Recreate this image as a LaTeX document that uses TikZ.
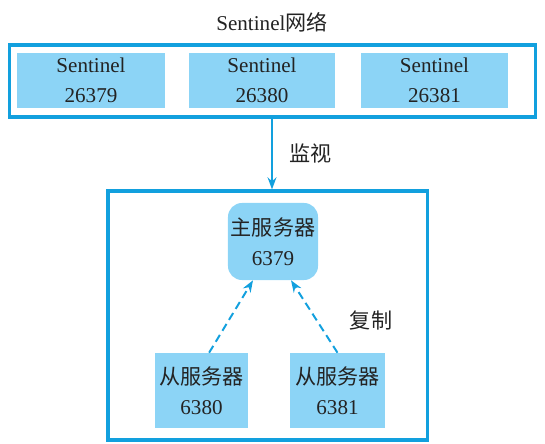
\documentclass[tikz,border=0pt]{standalone}
\usepackage{fontspec}
\setmainfont{Liberation Serif}
\newfontfamily\cjk{Noto Sans CJK SC}
\usetikzlibrary{arrows.meta,positioning,calc}
\definecolor{sline}{RGB}{18,160,222}
\definecolor{sfill}{RGB}{140,212,246}
\definecolor{stext}{RGB}{35,35,35}

\begin{document}
\begin{tikzpicture}[x=0.025cm,y=-0.025cm,
	font=\fontsize{15}{21.5}\selectfont, text=stext,
	frame/.style={draw=sline,line width=2.2pt,inner sep=0pt},
	sbox/.style={fill=sfill,align=center,inner sep=0pt,minimum width=3.7cm,minimum height=1.375cm},
	watch/.style={draw=sline,line width=1.6pt,-{Stealth[length=3mm,width=2.2mm]}},
	copyline/.style={draw=sline,line width=1.4pt,dash pattern=on 0.2cm off 0.12cm,-{Stealth[length=3mm,width=2.2mm]}}]
	\useasboundingbox (0,0) rectangle (545,444);
	% Sentinel network
	\node at (272,22) (title) {Sentinel{\cjk 网络}};
	\node at (272.5,81)[frame,minimum width=13.125cm,minimum height=1.8cm] (net) {};
	\node at (91,80.5)[sbox] (s1) {Sentinel\\26379};
	\node at (262,80.5)[sbox,minimum width=3.65cm] (s2) {Sentinel\\26380};
	\node at (434.5,80.5)[sbox,minimum width=3.675cm] (s3) {Sentinel\\26381};
	% servers
	\node at (267.5,315.5)[frame,minimum width=7.975cm,minimum height=6.225cm] (group) {};
	\node at (273,241.5)[sbox,minimum width=2.25cm,minimum height=1.925cm,rounded corners=0.35cm] (master) {{\cjk 主服务器}\\6379};
	\node at (201.5,390.5)[sbox,minimum width=2.325cm,minimum height=1.875cm] (slave1) {{\cjk 从服务器}\\6380};
	\node at (337.5,390.5)[sbox,minimum width=2.375cm,minimum height=1.875cm] (slave2) {{\cjk 从服务器}\\6381};
	\draw[watch] (net.south -| title) -- (group.north -| title) node[midway,right=0.3cm] (watchlbl) {\cjk 监视};
	\draw[copyline] ([xshift=0.19cm]slave1.north) -- ([xshift=-0.5cm]master.south);
	\draw[copyline] (slave2.north) -- ([xshift=0.45cm]master.south);
	\node at (371,320) (copylbl) {\cjk 复制};
\end{tikzpicture}
\end{document}
